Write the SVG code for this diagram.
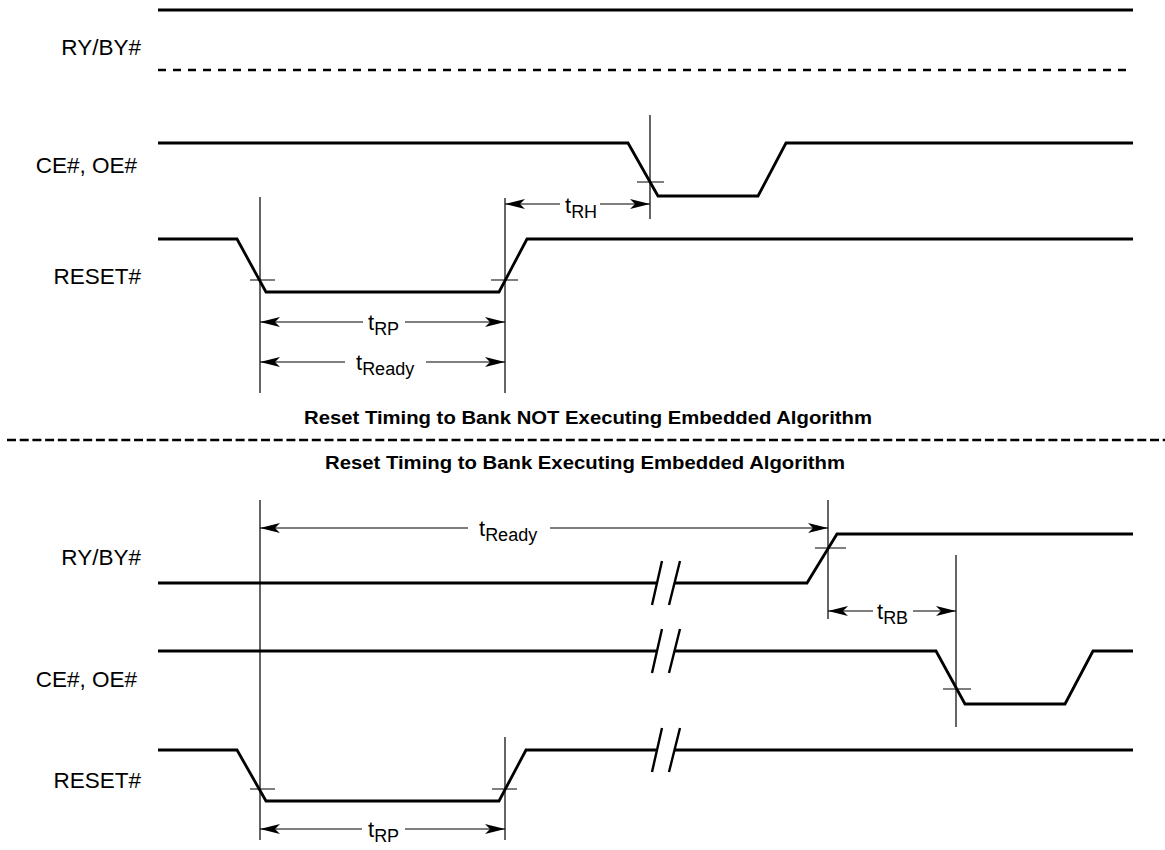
<svg xmlns="http://www.w3.org/2000/svg" width="1165" height="850" viewBox="0 0 1165 850">
<style>
.sig{fill:none;stroke:#000;stroke-width:2.8;stroke-linejoin:miter}
.brk{fill:none;stroke:#000;stroke-width:2.4}
.dash{fill:none;stroke:#000;stroke-width:2.6;stroke-dasharray:8 7}
.sep{fill:none;stroke:#000;stroke-width:2.6;stroke-dasharray:9 3.7}
.thin{fill:none;stroke:#000;stroke-width:1.2}
.dim{fill:none;stroke:#000;stroke-width:1.2}
.lbl{font-family:"Liberation Sans",Arial,sans-serif;font-size:22.5px;fill:#000}
.t{font-family:"Liberation Sans",Arial,sans-serif;font-size:22px;fill:#000}
.sub{font-size:18px}
.hd{font-family:"Liberation Sans",Arial,sans-serif;font-size:17.5px;font-weight:bold;fill:#000}
</style>
<defs>
<marker id="ah" viewBox="0 0 20 12" refX="20" refY="6" markerWidth="20" markerHeight="12" markerUnits="userSpaceOnUse" orient="auto-start-reverse">
<path d="M20,6 L0,1 L5,6 L0,11 Z" fill="#000"/>
</marker>
</defs>
<rect width="1165" height="850" fill="#fff"/>

<!-- TOP SECTION -->
<g id="top-ryby">
<text class="lbl" x="141" y="55" text-anchor="end">RY/BY#</text>
<path class="sig" d="M158,10 H1133"/>
<path class="dash" d="M158,70 H1133"/>
</g>
<g id="top-ce">
<text class="lbl" x="137" y="173" text-anchor="end">CE#, OE#</text>
<path class="sig" d="M158,143 H628 L658,196 H758 L786,143 H1133"/>
</g>
<g id="top-reset">
<text class="lbl" x="141" y="284" text-anchor="end">RESET#</text>
<path class="sig" d="M158,239 H237 L266,292 H499 L527,239 H1133"/>
</g>

<!-- separator and headings -->
<g id="headings">
<text class="hd" x="304" y="424" textLength="568" lengthAdjust="spacingAndGlyphs">Reset Timing to Bank NOT Executing Embedded Algorithm</text>
<path class="sep" d="M7,440 H1165"/>
<text class="hd" x="325" y="469" textLength="520" lengthAdjust="spacingAndGlyphs">Reset Timing to Bank Executing Embedded Algorithm</text>
</g>

<!-- BOTTOM SECTION -->
<g id="bot-ryby">
<text class="lbl" x="141" y="565" text-anchor="end">RY/BY#</text>
<path class="sig" d="M158,583 H657 M674,583 H807 L837,534 H1133"/>
<path class="brk" d="M652,605 L662,561 M669,605 L680,561"/>
</g>
<g id="bot-ce">
<text class="lbl" x="137" y="687" text-anchor="end">CE#, OE#</text>
<path class="sig" d="M158,651 H657 M674,651 H936 L965,704 H1065 L1093,651 H1133"/>
<path class="brk" d="M652,673 L662,629 M669,673 L680,629"/>
</g>
<g id="bot-reset">
<text class="lbl" x="141" y="788" text-anchor="end">RESET#</text>
<path class="sig" d="M158,750 H237 L266,801 H499 L526,750 H657 M674,750 H1133"/>
<path class="brk" d="M652,772 L662,728 M669,772 L680,728"/>
</g>

<!-- connectors: reference lines, ticks and dimension arrows -->
<g id="connectors">
<path class="thin" d="M260,197 V393 M505,198 V393 M650,115 V219"/>
<path class="thin" d="M250,280 H275 M491,280 H518 M637,182 H664"/>
<path class="dim" d="M560,204 H505" marker-end="url(#ah)"/>
<path class="dim" d="M600,204 H650" marker-end="url(#ah)"/>
<path class="dim" d="M363,322 H260" marker-end="url(#ah)"/>
<path class="dim" d="M405,322 H505" marker-end="url(#ah)"/>
<path class="dim" d="M345,362 H260" marker-end="url(#ah)"/>
<path class="dim" d="M426,362 H505" marker-end="url(#ah)"/>

<path class="thin" d="M260,500 V840 M505,737 V840 M828,500 V619 M956,555 V727"/>
<path class="thin" d="M815,548 H846 M943,689 H971 M250,789 H275 M492,789 H517"/>
<path class="dim" d="M468,528 H260" marker-end="url(#ah)"/>
<path class="dim" d="M550,528 H828" marker-end="url(#ah)"/>
<path class="dim" d="M873,611 H828" marker-end="url(#ah)"/>
<path class="dim" d="M913,611 H956" marker-end="url(#ah)"/>
<path class="dim" d="M362,829 H260" marker-end="url(#ah)"/>
<path class="dim" d="M405,829 H505" marker-end="url(#ah)"/>
</g>

<g id="dim-labels">
<text class="t" x="565" y="213">t<tspan class="sub" dy="5">RH</tspan></text>
<text class="t" x="368" y="330">t<tspan class="sub" dy="5">RP</tspan></text>
<text class="t" x="356" y="370">t<tspan class="sub" dy="5">Ready</tspan></text>
<text class="t" x="479" y="536">t<tspan class="sub" dy="5">Ready</tspan></text>
<text class="t" x="877" y="619">t<tspan class="sub" dy="5">RB</tspan></text>
<text class="t" x="368" y="837">t<tspan class="sub" dy="5">RP</tspan></text>
</g>
</svg>
